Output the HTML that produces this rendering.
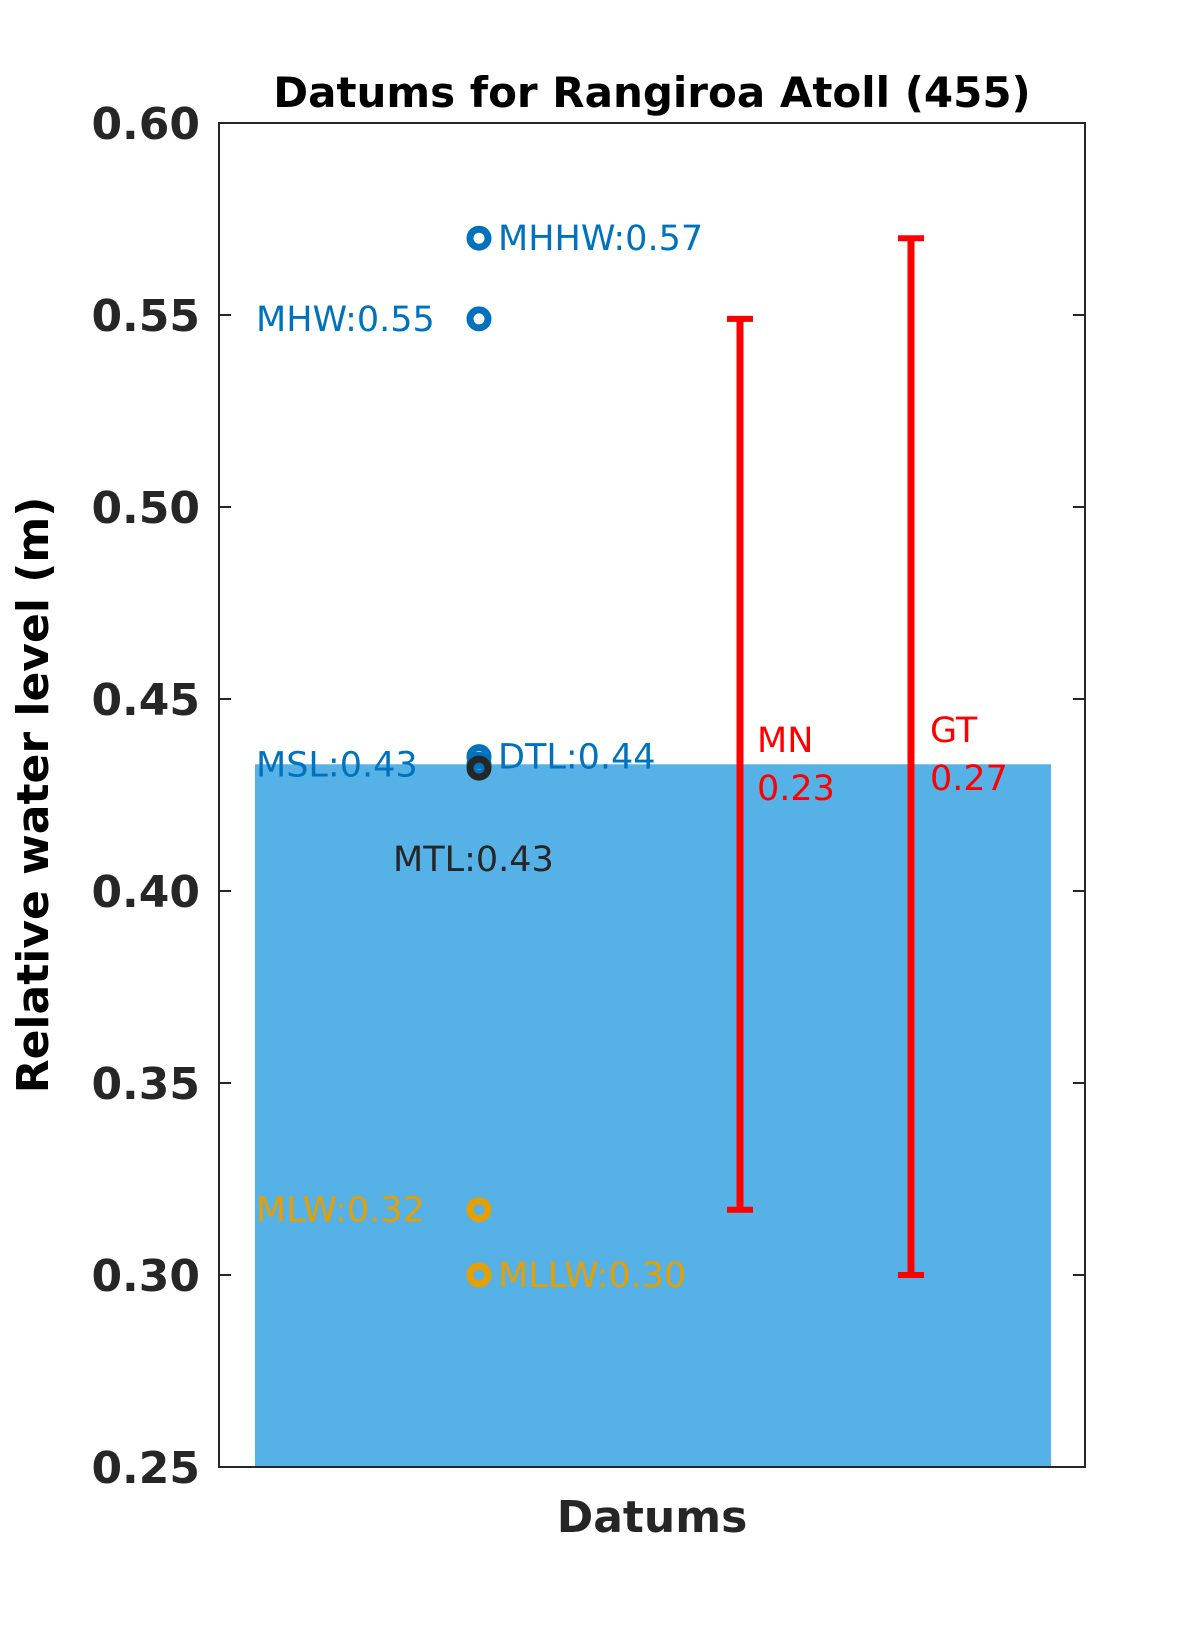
<!DOCTYPE html>
<html><head><meta charset="utf-8"><style>
body{margin:0;background:#fff}
svg{display:block;font-family:"DejaVu Sans","Liberation Sans",sans-serif}
</style></head><body>
<svg id="chart" width="1200" height="1650" viewBox="0 0 1200 1650">
<text x="652" y="107" text-anchor="middle" font-size="42" font-weight="bold" fill="#000">Datums for Rangiroa Atoll  (455)</text>
<text x="652" y="1532" text-anchor="middle" font-size="44" font-weight="bold" fill="#262626">Datums</text>
<text transform="translate(48,795) rotate(-90)" text-anchor="middle" font-size="44" font-weight="bold" fill="#000">Relative water level (m)</text>
<g id="plot"></g>
</svg>
<script>
const yTicks=[0.25,0.30,0.35,0.40,0.45,0.50,0.55,0.60];
const tickLabels=["0.25","0.30","0.35","0.40","0.45","0.50","0.55","0.60"];
const barValue=[0.433];
const datumNames=["MHHW","MHW","DTL","MSL","MTL","MLW","MLLW"];
const datumValues=[0.57,0.549,0.435,0.433,0.432,0.317,0.300];
const datumLabels=["MHHW:0.57","MHW:0.55","DTL:0.44","MSL:0.43","MTL:0.43","MLW:0.32","MLLW:0.30"];
const rangeNames=["MN","GT"];
const rangeLow=[0.317,0.300];
const rangeHigh=[0.549,0.570];
const rangeLabels=["0.23","0.27"];

const L=219,R=1085,T=123,B=1467,y0=0.25,y1=0.60;
const ys=v=>B-(v-y0)/(y1-y0)*(B-T);
const NS="http://www.w3.org/2000/svg";
const g=document.getElementById('plot');
function mk(tag,attrs,text){const e=document.createElementNS(NS,tag);for(const k in attrs)e.setAttribute(k,attrs[k]);if(text!==undefined)e.textContent=text;g.appendChild(e);return e;}

// bar
const bar=mk('rect',{x:255,y:ys(barValue[0]),width:1051-255,height:B-ys(barValue[0]),fill:'#56B2E6'});



// axes box
const box=mk('rect',{x:L,y:T,width:R-L,height:B-T,fill:'none',stroke:'#262626','stroke-width':2});



yTicks.forEach((v,i)=>{
  const y=ys(v);
  const t1=mk('line',{x1:L,x2:L+12,y1:y,y2:y,stroke:'#262626','stroke-width':2});
  
  
  const t2=mk('line',{x1:R-12,x2:R,y1:y,y2:y,stroke:'#262626','stroke-width':2});
  
  
  const lb=mk('text',{x:200,y:y+16,'text-anchor':'end','font-size':44,'font-weight':'bold',fill:'#262626'},tickLabels[i]);
  
  
});

// datums
const colors={MHHW:'#0072BD',MHW:'#0072BD',DTL:'#0072BD',MSL:'#0072BD',MTL:'#262626',MLW:'#E69F00',MLLW:'#E69F00'};
const leftSide={MHW:1,MSL:1,MLW:1};
const mx=479;
datumNames.forEach((n,i)=>{
  const y=ys(datumValues[i]);
  const c=mk('circle',{cx:mx,cy:y,r:9,fill:'none',stroke:colors[n],'stroke-width':7});
  
  
  let x,anchor='start',ty=y+12;
  if(n==='MTL'){x=393;ty=y+103;}
  else if(leftSide[n]){x=256;}
  else x=498;
  const t=mk('text',{x:x,y:ty,'text-anchor':anchor,'font-size':35,fill:colors[n]},datumLabels[i]);
  
  
});

// ranges
const rx=[740,911];
const lx=[757,930];
rangeNames.forEach((n,i)=>{
  const yl=ys(rangeLow[i]),yh=ys(rangeHigh[i]);
  const ln=mk('line',{x1:rx[i],x2:rx[i],y1:yh,y2:yl,stroke:'#FF0000','stroke-width':7});
  
  
  [yl,yh].forEach(y=>{
    const cp=mk('line',{x1:rx[i]-13,x2:rx[i]+13,y1:y,y2:y,stroke:'#FF0000','stroke-width':6});
    
    
  });
  const mid=(i===0)?740:730;
  const t1=mk('text',{x:lx[i],y:mid+12,'font-size':35,fill:'#FF0000'},n);
  
  
  const t2=mk('text',{x:lx[i],y:mid+60,'font-size':35,fill:'#FF0000'},rangeLabels[i]);
  
  
});
</script>
</body></html>
